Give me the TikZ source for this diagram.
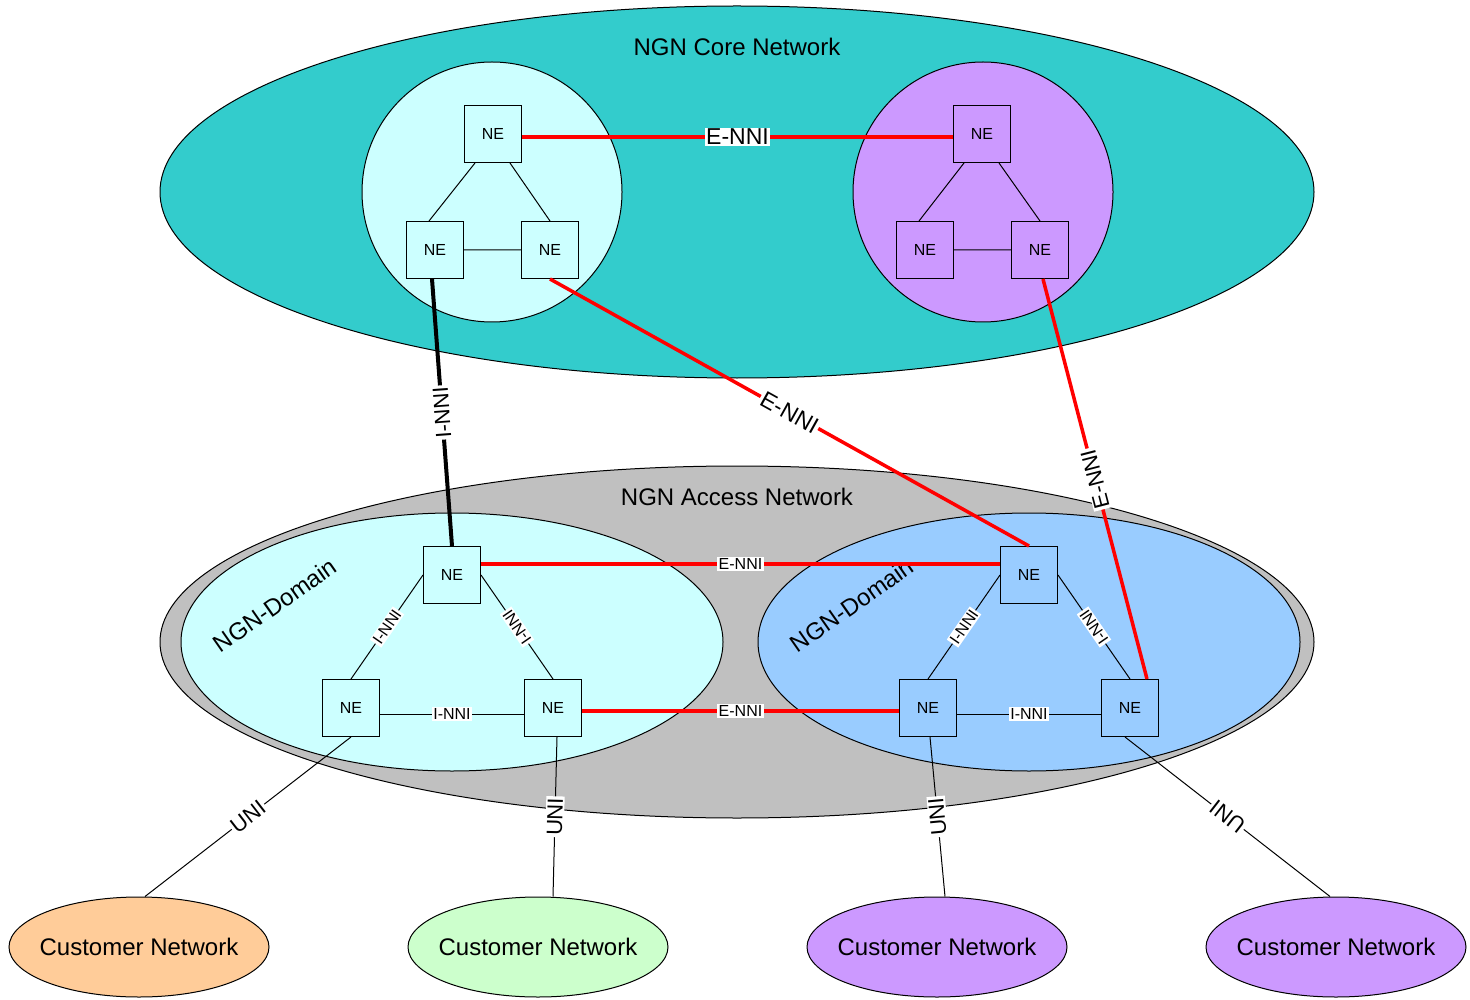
\documentclass[tikz,border=0pt]{standalone}
\usepackage{fontspec}
\setmainfont{Liberation Sans}
\usetikzlibrary{shapes.geometric}
\definecolor{coreclr}{HTML}{33CCCC}
\definecolor{lightcyan}{HTML}{CCFFFF}
\definecolor{lilac}{HTML}{CC99FF}
\definecolor{accclr}{HTML}{C0C0C0}
\definecolor{skyblue}{HTML}{99CCFF}
\definecolor{peach}{HTML}{FFCC99}
\definecolor{mint}{HTML}{CCFFCC}
\begin{document}
\begin{tikzpicture}[x=1pt, y=-1pt,
  every node/.style = {font=\fontsize{24}{28}\selectfont},
  region/.style = {draw, line width=1pt, inner sep=0pt},
  ne/.style = {shape=rectangle, draw, line width=1pt,
    minimum size=57pt, inner sep=0pt, font=\fontsize{16}{18}\selectfont},
  cust/.style = {region, ellipse, minimum width=260pt, minimum height=100pt},
  link/.style = {line width=1pt},
  enni/.style = {red, line width=3.5pt},
  lbl/.style = {fill=white, inner sep=1.5pt, text=black, sloped, midway,
    font=\fontsize{22}{24}\selectfont},
  mid/.style = {font=\fontsize{16}{18}\selectfont}]
  \useasboundingbox (0,0) rectangle (1470,1000);

  \node[region, ellipse, fill=coreclr, minimum width=1154pt, minimum height=372pt] (core) at (737,192) {};
  \node[region, circle, fill=lightcyan, minimum size=260pt] (cdom1) at (492,192) {};
  \node[region, circle, fill=lilac, minimum size=260pt] (cdom2) at (983,192) {};
  \node (corettl) at (737,47) {NGN Core Network};

  \node[region, ellipse, fill=accclr, minimum width=1154pt, minimum height=352pt] (access) at (737,642) {};
  \node[region, ellipse, fill=lightcyan, minimum width=542pt, minimum height=258pt] (adom1) at (452,642) {};
  \node[region, ellipse, fill=skyblue, minimum width=542pt, minimum height=258pt] (adom2) at (1029,642) {};
  \node (accttl) at (737,497) {NGN Access Network};
  \node[rotate=35] (dom1) at (275,605) {NGN-Domain};
  \node[rotate=35] (dom2) at (852,605) {NGN-Domain};

  \node[ne, fill=lightcyan] (c1t) at (493,134) {NE};
  \node[ne, fill=lightcyan] (c1l) at (435,250) {NE};
  \node[ne, fill=lightcyan] (c1r) at (550,250) {NE};
  \node[ne, fill=lilac] (c2t) at (982,134) {NE};
  \node[ne, fill=lilac] (c2l) at (925,250) {NE};
  \node[ne, fill=lilac] (c2r) at (1040,250) {NE};

  \node[ne, fill=lightcyan] (a1t) at (452,575) {NE};
  \node[ne, fill=lightcyan] (a1l) at (351,708) {NE};
  \node[ne, fill=lightcyan] (a1r) at (553,708) {NE};
  \node[ne, fill=skyblue] (a2t) at (1029,575) {NE};
  \node[ne, fill=skyblue] (a2l) at (928,708) {NE};
  \node[ne, fill=skyblue] (a2r) at (1130,708) {NE};

  \node[cust, fill=peach, label=center:{Customer Network}] (cn1) at (139,947) {};
  \node[cust, fill=mint, label=center:{Customer Network}] (cn2) at (538,947) {};
  \node[cust, fill=lilac, label=center:{Customer Network}] (cn3) at (937,947) {};
  \node[cust, fill=lilac, label=center:{Customer Network}] (cn4) at (1336,947) {};

  \draw[link] ([xshift=-18pt]c1t.south) -- ([xshift=-6pt]c1l.north)
    ([xshift=17pt]c1t.south) -- (c1r.north) (c1l) -- (c1r);
  \draw[link] ([xshift=-18pt]c2t.south) -- ([xshift=-6pt]c2l.north)
    ([xshift=17pt]c2t.south) -- (c2r.north) (c2l) -- (c2r);
  \draw[enni] ([yshift=-3pt]c1t.east) -- node[lbl, font=\fontsize{23}{25}\selectfont] {E-NNI} ([yshift=-3pt]c2t.west);

  \draw[link] (a1l.north) -- node[lbl, mid] {I-NNI} (a1t.west);
  \draw[link] (a1r.north) -- node[lbl, mid, allow upside down] {I-NNI} (a1t.east);
  \draw[link] ([yshift=-6pt]a1l.east) -- node[lbl, mid] {I-NNI} ([yshift=-6pt]a1r.west);
  \draw[link] (a2l.north) -- node[lbl, mid] {I-NNI} (a2t.west);
  \draw[link] (a2r.north) -- node[lbl, mid, allow upside down] {I-NNI} (a2t.east);
  \draw[link] ([yshift=-6pt]a2l.east) -- node[lbl, mid] {I-NNI} ([yshift=-6pt]a2r.west);
  \draw[enni] ([yshift=11pt]a1t.east) -- node[lbl, mid] {E-NNI} ([yshift=11pt]a2t.west);
  \draw[enni] ([yshift=-3pt]a1r.east) -- node[lbl, mid] {E-NNI} ([yshift=-3pt]a2l.west);

  \draw[line width=4pt] (a1t.north) -- node[lbl, allow upside down] {I-NNI} ([xshift=-3pt]c1l.south);
  \draw[enni] (c1r.south) -- node[lbl, font=\fontsize{23}{25}\selectfont] {E-NNI} (a2t.north);
  \draw[enni] ([xshift=17pt]a2r.north) -- node[lbl, allow upside down] {E-NNI} ([xshift=3pt]c2r.south);

  \draw[link] ([xshift=6pt]cn1.north) -- node[lbl] {UNI} (a1l.south);
  \draw[link] ([xshift=15pt]cn2.north) -- node[lbl, allow upside down] {UNI} ([xshift=4pt]a1r.south);
  \draw[link] ([xshift=8pt]cn3.north) -- node[lbl, allow upside down] {UNI} ([xshift=2pt]a2l.south);
  \draw[link] ([xshift=-6pt]cn4.north) -- node[lbl, allow upside down] {UNI} ([xshift=-5pt]a2r.south);
\end{tikzpicture}
\end{document}
